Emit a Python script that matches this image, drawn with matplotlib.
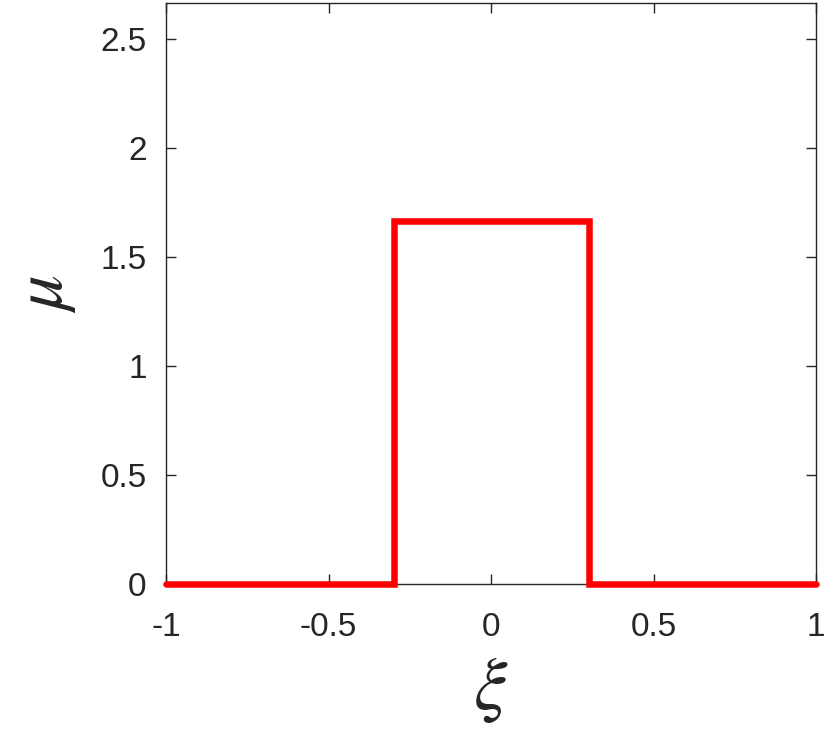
import matplotlib
matplotlib.use("Agg")
import matplotlib.pyplot as plt

# Data
xi = [-1.0, -0.3, -0.3, 0.3, 0.3, 1.0]
mu = [0.0, 0.0, 1.6667, 1.6667, 0.0, 0.0]
xticks = [-1, -0.5, 0, 0.5, 1]
xticklabels = ["-1", "-0.5", "0", "0.5", "1"]
yticks = [0, 0.5, 1, 1.5, 2, 2.5]
yticklabels = ["0", "0.5", "1", "1.5", "2", "2.5"]

plt.rcParams['font.family'] = ['Liberation Sans', 'DejaVu Sans']
plt.rcParams['mathtext.fontset'] = 'stix'

fig = plt.figure(figsize=(8.30, 7.38), dpi=100)
ax = fig.add_axes([166/830, 1 - 584/738, (816-166)/830, (584-3)/738])

ax.plot(xi, mu, color='#ff0000', linewidth=4.7, clip_on=False,
        solid_capstyle='round', solid_joinstyle='miter', zorder=3)

ax.set_xlim(-1, 1)
ax.set_ylim(0, 2.667)
ax.set_xticks(xticks)
ax.set_xticklabels(xticklabels)
ax.set_yticks(yticks)
ax.set_yticklabels(yticklabels)

gray = '#262626'
for s in ax.spines.values():
    s.set_color(gray)
    s.set_linewidth(1.0)
ax.tick_params(direction='in', length=7, width=1.0, colors=gray,
               labelsize=24, top=True, right=True)
ax.tick_params(axis='x', pad=20)
ax.tick_params(axis='y', pad=14)

ax.set_xlabel(r'$\xi$', fontsize=54, color=gray, labelpad=9)
ax.set_ylabel(r'$\mu$', fontsize=51, color=gray, labelpad=16)

fig.savefig('out.png', dpi=100)
